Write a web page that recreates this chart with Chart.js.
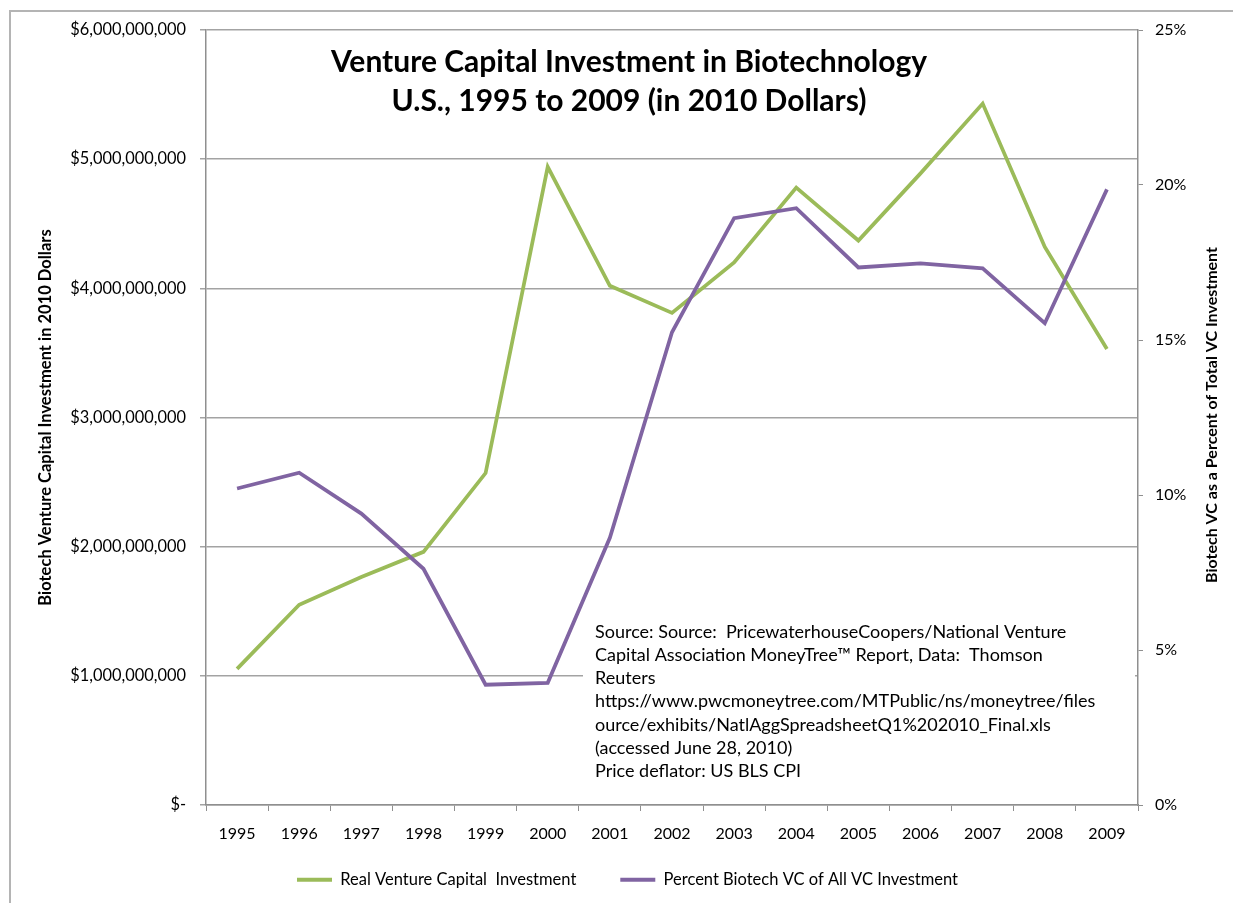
<!DOCTYPE html>
<html><head><meta charset="utf-8">
<script src="https://cdn.jsdelivr.net/npm/chart.js@4.4.1/dist/chart.umd.min.js"></script>
<style>html,body{margin:0;padding:0;background:#fff;overflow:hidden}#wrap{width:1233px;height:903px}</style>
</head><body><div id="wrap"><canvas id="c" width="1233" height="903"></canvas></div>
<script>
const years = ['1995','1996','1997','1998','1999','2000','2001','2002','2003','2004','2005','2006','2007','2008','2009'];
const realInvestment = [1.054e9, 1.550e9, 1.765e9, 1.960e9, 2.570e9, 4.940e9, 4.020e9, 3.810e9, 4.200e9, 4.780e9, 4.370e9, 4.890e9, 5.430e9, 4.320e9, 3.530e9];
const percentBiotech = [10.21, 10.72, 9.40, 7.62, 3.88, 3.94, 8.62, 15.25, 18.93, 19.25, 17.34, 17.47, 17.31, 15.54, 19.86];
const seriesNames = ['Real Venture Capital  Investment', 'Percent Biotech VC of All VC Investment'];
const leftAxisRange = [0, 6e9, 1e9];
const rightAxisRange = [0, 25, 5];
const titleLines = ['Venture Capital Investment in Biotechnology', 'U.S., 1995 to 2009 (in 2010 Dollars)'];
const leftAxisTitle = 'Biotech Venture Capital Investment in 2010 Dollars';
const rightAxisTitle = 'Biotech VC as a Percent of Total VC Investment';
const sourceLines = [
  'Source: Source:  PricewaterhouseCoopers/National Venture',
  'Capital Association MoneyTree\u2122 Report, Data:  Thomson',
  'Reuters',
  'https://www.pwcmoneytree.com/MTPublic/ns/moneytree/files',
  'ource/exhibits/NatlAggSpreadsheetQ1%202010_Final.xls',
  '(accessed June 28, 2010)',
  'Price deflator: US BLS CPI'
];

const GREEN = '#9bbb59', PURPLE = '#8064a2';
const GRID = '#a3a3a3', AXIS = '#8f8f8f';
const FONT = 'Lato';

const decor = {
  id: 'decor',
  beforeDraw(chart) {
    const ctx = chart.ctx;
    ctx.save();
    ctx.fillStyle = '#fff';
    ctx.fillRect(0, 0, chart.width, chart.height);
    ctx.strokeStyle = '#b4b4b4';
    ctx.lineWidth = 2;
    ctx.beginPath();
    ctx.moveTo(10, chart.height);
    ctx.lineTo(10, 11);
    ctx.lineTo(chart.width, 11);
    ctx.stroke();
    ctx.restore();
  },
  afterDatasetsDraw(chart) {
    const ctx = chart.ctx;
    ctx.save();
    // source text box
    ctx.fillStyle = '#fff';
    ctx.fillRect(583, 612, 552, 180);
    ctx.fillStyle = '#000';
    ctx.font = '18px ' + FONT;
    ctx.textAlign = 'left';
    ctx.textBaseline = 'middle';
    sourceLines.forEach((l, i) => ctx.fillText(l, 595, 632 + i * 23.2));
    // title
    ctx.font = 'bold 30px ' + FONT;
    ctx.textAlign = 'center';
    ctx.fillText(titleLines[0], 629, 62);
    ctx.fillText(titleLines[1], 629, 101);
    // right axis title
    ctx.font = 'bold 16px ' + FONT;
    ctx.translate(1212, 415);
    ctx.rotate(-Math.PI / 2);
    ctx.fillText(rightAxisTitle, 0, 0);
    ctx.restore();
  }
};

new Chart(document.getElementById('c'), {
  type: 'line',
  data: {
    labels: years,
    datasets: [
      { label: seriesNames[0], data: realInvestment, yAxisID: 'y', borderColor: GREEN, backgroundColor: GREEN,
        borderWidth: 3.75, pointRadius: 0, tension: 0, order: 1 },
      { label: seriesNames[1], data: percentBiotech, yAxisID: 'y2', borderColor: PURPLE, backgroundColor: PURPLE,
        borderWidth: 3.75, pointRadius: 0, tension: 0, order: 0 }
    ]
  },
  options: {
    responsive: false,
    animation: false,
    devicePixelRatio: 1,
    layout: { padding: { left: 22, right: 0, top: 30, bottom: 5 } },
    plugins: {
      tooltip: { enabled: false },
      title: { display: false },
      legend: {
        position: 'bottom',
        labels: {
          font: { family: FONT, size: 16.5 }, color: '#000',
          boxWidth: 35, boxHeight: 4, padding: 44,
          sort: (a, b) => a.datasetIndex - b.datasetIndex,
          generateLabels(chart) {
            const items = Chart.defaults.plugins.legend.labels.generateLabels(chart);
            return items.map(it => Object.assign(it, { lineWidth: 0 }));
          }
        }
      }
    },
    scales: {
      x: {
        type: 'category', offset: true,
        grid: { offset: true, drawOnChartArea: false, drawTicks: true, tickLength: 6, color: AXIS },
        border: { color: AXIS, width: 1.5 },
        ticks: { font: { family: FONT, size: 16 }, color: '#000', padding: 13, maxRotation: 0, autoSkip: false },
        afterFit(s) { s.height = 22.5; s._computeLabelArea = () => undefined; }
      },
      y: {
        position: 'left', min: leftAxisRange[0], max: leftAxisRange[1],
        grid: { color: GRID, lineWidth: 1.5, tickLength: 6, drawTicks: true },
        border: { color: AXIS, width: 1.5 },
        ticks: {
          stepSize: leftAxisRange[2], font: { family: FONT, size: 16.4 }, color: '#000', padding: 14,
          callback: v => v === 0 ? '$-' : '$' + Number(v).toLocaleString('en-US')
        },
        title: { display: true, text: leftAxisTitle, font: { family: FONT, size: 16.5, weight: 'bold' }, color: '#000', padding: { top: 14, bottom: 0 } },
        afterFit(s) { s.width = 184; }
      },
      y2: {
        position: 'right', min: rightAxisRange[0], max: rightAxisRange[1],
        grid: { drawOnChartArea: false, color: AXIS, tickLength: 5, drawTicks: true },
        border: { color: AXIS, width: 1.5 },
        ticks: { stepSize: rightAxisRange[2], font: { family: FONT, size: 16 }, color: '#000', padding: 12, callback: v => v + '%' },
        afterFit(s) { s.width = 95; }
      }
    }
  },
  plugins: [decor]
});
</script></body></html>
